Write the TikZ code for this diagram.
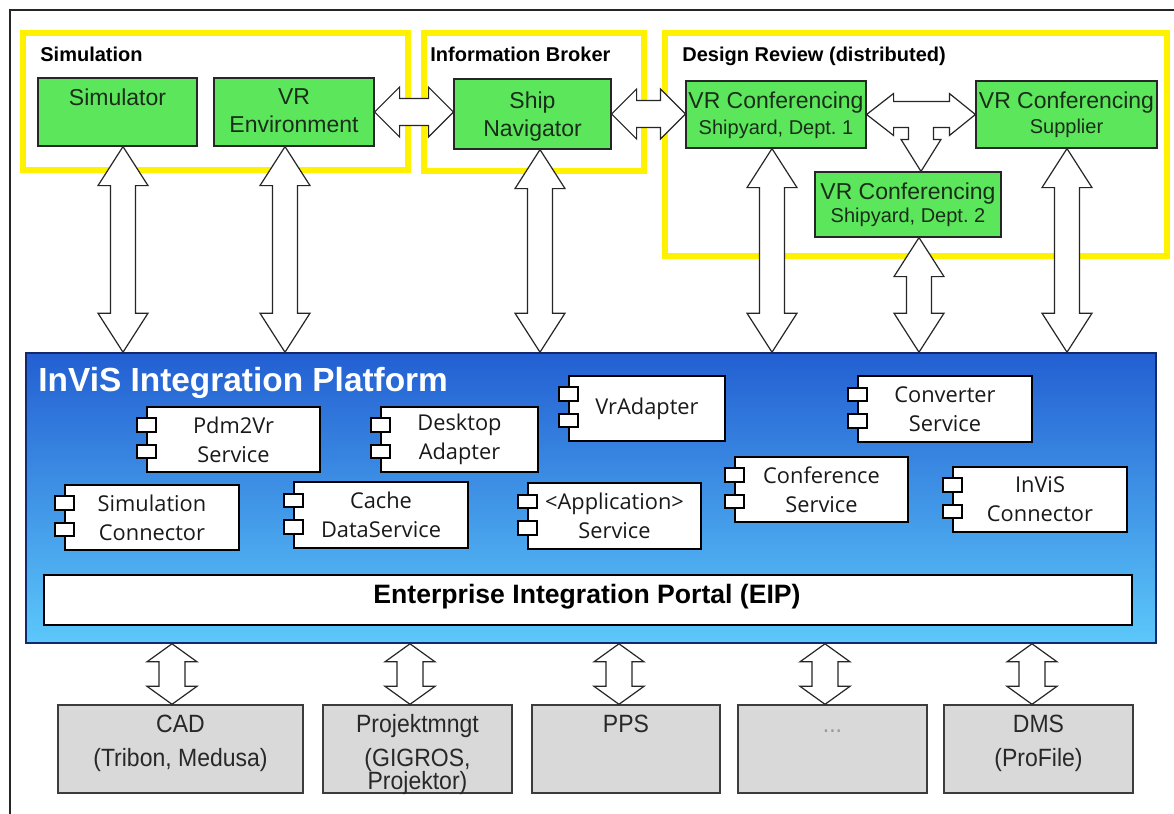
\documentclass[tikz,border=0pt]{standalone}
\usepackage{fontspec}
\setmainfont{Liberation Sans}
\newfontfamily\compfont{Open Sans}
\newfontfamily\sysfont[FakeStretch=0.92]{Liberation Sans}
\usetikzlibrary{calc,fit}

\definecolor{gboxfill}{RGB}{92,230,92}
\definecolor{gboxink}{RGB}{25,45,25}
\definecolor{frameyellow}{RGB}{255,242,0}
\definecolor{platdark}{RGB}{35,95,210}
\definecolor{platlight}{RGB}{92,200,250}
\definecolor{platedge}{RGB}{20,40,110}
\definecolor{sysfill}{RGB}{217,217,217}
\definecolor{sysedge}{RGB}{60,60,60}
\definecolor{sysink}{RGB}{40,40,40}

% vertical double block arrow: #1 upper tip, #2 lower tip,
% #3 head length, #4 head half width, #5 shaft half width
\newcommand\vdbl[5]{%
  \draw[blockarrow] (#1) -- ++(-#4,#3) -- ++(#4-#5,0) -- ($(#2)+(-#5,-#3)$)
    -- ++(#5-#4,0) -- (#2) -- ++(#4,-#3) -- ++(#5-#4,0)
    -- ($(#1)+(#5,#3)$) -- ++(#4-#5,0) -- cycle;}
% horizontal double block arrow: #1 left tip, #2 right tip
\newcommand\hdbl[5]{%
  \draw[blockarrow] (#1) -- ++(#3,-#4) -- ++(0,#4-#5) -- ($(#2)+(-#3,-#5)$)
    -- ++(0,#5-#4) -- (#2) -- ++(-#3,#4) -- ++(0,#5-#4)
    -- ($(#1)+(#3,#5)$) -- ++(0,#4-#5) -- cycle;}
% a component box with its label and the two port rectangles on its left edge
% #1 name, #2 upper left corner, #3 lower right corner, #4 label
\newcommand\component[4]{%
  \node[comp, fit={#2 #3}] (#1) {};
  \node[comptext] (#1-label) at (#1.center) {#4};
  \draw[compicon] ($(#1.west)+(-9,-21.25)$) rectangle ++(19,13.5);
  \draw[compicon] ($(#1.west)+(-9,5.25)$) rectangle ++(19,13.5);}

\tikzset{
  area/.style={draw=frameyellow, line width=3.2pt, inner sep=0},
  areatitle/.style={font=\bfseries\fontsize{10}{12}\selectfont, inner sep=0, anchor=base west},
  appbox/.style={draw=black!85, line width=0.6pt, fill=gboxfill, inner sep=0},
  apptext/.style={anchor=north, inner sep=0, align=center, text=gboxink,
    font=\fontsize{11.5}{14}\selectfont},
  platform/.style={draw=platedge, line width=0.8pt, top color=platdark,
    bottom color=platlight, inner sep=0},
  comp/.style={draw=black, line width=1.25pt, fill=white, inner sep=0},
  comptext/.style={anchor=center, inner sep=0, align=center,
    font=\compfont\fontsize{10.9}{14.5}\selectfont, text=black!90},
  compicon/.style={draw=black, line width=1.1pt, fill=white},
  portal/.style={draw=black, line width=1.1pt, fill=white, inner sep=0},
  sysbox/.style={draw=sysedge, line width=0.7pt, fill=sysfill, inner sep=0},
  syslabel/.style={anchor=north, inner sep=0, align=center, text=sysink,
    font=\sysfont\fontsize{12.5}{11.5}\selectfont},
  blockarrow/.style={draw=black!85, line width=0.6pt, fill=white, line join=miter},
}

\begin{document}
\setlength{\lineskiplimit}{-20pt}
\begin{tikzpicture}[x=0.5pt, y=-0.5pt]
\useasboundingbox (0,0) rectangle (1174,814);
\fill[white] (0,0) rectangle (1174,814);
\draw[line width=0.9pt, black!85] (10,814) -- (10,10) -- (1174,10);

% ---- upper application areas
\node[area, fit={(23,33) (408,170)}] (simarea) {};
\node[area, fit={(424,33) (644,171)}] (brokerarea) {};
\node[area, fit={(665,33) (1167,256)}] (reviewarea) {};
\node[areatitle] (simtitle) at (40,61.5) {Simulation};
\node[areatitle] (brokertitle) at (430,61.5) {Information Broker};
\node[areatitle] (reviewtitle) at (682,61.5) {Design Review (distributed)};

\node[appbox, fit={(38,78) (197,146)}] (simulator) {};
\node[apptext] (simulator-label) at ($(simulator.north)+(0,11)$) {Simulator};
\node[appbox, fit={(214,78) (374,146)}] (vrenv) {};
\node[apptext] (vrenv-label) at ($(vrenv.north)+(0,11)$) {VR\\Environment};
\node[appbox, fit={(454,79) (611,149)}] (shipnav) {};
\node[apptext] (shipnav-label) at ($(shipnav.north)+(0,13)$) {Ship\\Navigator};
\node[appbox, fit={(686,81) (866,148)}] (vrc1) {};
\node[apptext] (vrc1-label) at ($(vrc1.north)+(0,11)$)
  {VR Conferencing\\[-1pt]{\fontsize{10}{12}\selectfont Shipyard, Dept.~1}};
\node[appbox, fit={(976,81) (1157,148)}] (vrcs) {};
\node[apptext] (vrcs-label) at ($(vrcs.north)+(0,11)$)
  {VR Conferencing\\[-1.5pt]{\fontsize{10}{12}\selectfont Supplier}};
\node[appbox, fit={(815,172) (1001,237)}] (vrc2) {};
\node[apptext] (vrc2-label) at ($(vrc2.north)+(0,11)$)
  {VR Conferencing\\[-2.5pt]{\fontsize{10}{12}\selectfont Shipyard, Dept.~2}};

% ---- integration platform
\node[platform, fit={(26,353) (1156,643)}] (platform) {};
\node[anchor=base west, inner sep=0, text=white, font=\bfseries\fontsize{16.7}{20}\selectfont]
  (platformtitle) at (38,391) {InViS Integration Platform};

\component{pdm2vr}{(147,407)}{(320,472)}{Pdm2Vr\\Service}
\component{desktop}{(381,407)}{(538,472)}{Desktop\\Adapter}
\component{vradapter}{(569,376)}{(725,441)}{VrAdapter}
\component{converter}{(858,376)}{(1032,442)}{Converter\\Service}
\component{simconn}{(65,485)}{(239,550)}{Simulation\\Connector}
\component{cache}{(294,482)}{(468,548)}{Cache\\DataService}
\component{appsvc}{(528,483)}{(701,549)}{<Application>\\Service}
\component{confsvc}{(735,457)}{(908,522)}{Conference\\Service}
\component{invisconn}{(953,467)}{(1127,532)}{InViS\\Connector}

\node[portal, fit={(44,575) (1132,625)}] (eip) {};
\node[anchor=base, inner sep=0, font=\bfseries\fontsize{13.3}{16}\selectfont]
  (eiptitle) at ($(eip.center)+(-1,3)$) {Enterprise Integration Portal (EIP)};

% ---- backend systems
\node[sysbox, fit={(58,705) (303,793)}] (cad) {};
\node[syslabel] (cad-label) at ($(cad.north)+(0,10)$) {CAD\\[5.5pt](Tribon, Medusa)};
\node[sysbox, fit={(323,705) (512,793)}] (proj) {};
\node[syslabel] (proj-label) at ($(proj.north)+(0,10)$) {Projektmngt\\[5.5pt](GIGROS,\\Projektor)};
\node[sysbox, fit={(532,705) (720,793)}] (pps) {};
\node[syslabel] (pps-label) at ($(pps.north)+(0,10)$) {PPS};
\node[sysbox, fit={(738,705) (927,793)}] (more) {};
\node[anchor=base, inner sep=0, text=black!40, font=\sysfont\fontsize{12.5}{14}\selectfont]
  (more-label) at ($(more.north)+(0,28)$) {...};
\node[sysbox, fit={(944,705) (1133,793)}] (dms) {};
\node[syslabel] (dms-label) at ($(dms.north)+(0,10)$) {DMS\\[5.5pt](ProFile)};

% ---- connectors between the applications
\coordinate (h1a) at (vrenv.east);
\coordinate (h1b) at (h1a -| shipnav.west);
\hdbl{h1a}{h1b}{25}{25}{13.5}
\coordinate (h2a) at (shipnav.east);
\coordinate (h2b) at (h2a -| vrc1.west);
\hdbl{h2a}{h2b}{25}{25}{13.5}

\coordinate (L) at (vrc1.east);
\coordinate (R) at (L -| vrcs.west);
\coordinate (D) at ($(vrc2.north)+(13,0)$);
\coordinate (Dm) at (D |- L);
\draw[blockarrow] (L) -- ++(27,-21) -- ++(0,8) -- ($(R)+(-26,-13)$) -- ++(0,-8) -- (R)
  -- ++(-26,21) -- ++(0,-8) -- ($(Dm)+(12.5,13)$) -- ($(D)+(12.5,-32)$)
  -- ($(D)+(20,-32)$) -- (D) -- ($(D)+(-20,-32)$) -- ($(D)+(-12.5,-32)$)
  -- ($(Dm)+(-12.5,13)$) -- ($(L)+(27,13)$) -- ++(0,8) -- cycle;

% ---- applications to platform
\coordinate (s1) at ($(simulator.south)+(5.5,0)$);
\coordinate (s2) at ($(vrenv.south)+(-9,0)$);
\coordinate (s3) at ($(shipnav.south)+(7.5,0)$);
\coordinate (s4) at ($(vrc1.south)+(-4,0)$);
\coordinate (s5) at ($(vrc2.south)+(11,0)$);
\coordinate (s6) at ($(vrcs.south)+(0.5,0)$);
\foreach \i in {1,...,6}{
  \coordinate (p\i) at (s\i |- platform.north);
  \vdbl{s\i}{p\i}{39}{25}{12.5}
}

% ---- platform to backend systems
\coordinate (b1) at ($(cad.north)+(-8.5,0)$);
\coordinate (b2) at ($(proj.north)+(-7.5,0)$);
\coordinate (b3) at ($(pps.north)+(-7,0)$);
\coordinate (b4) at ($(more.north)+(-7.5,0)$);
\coordinate (b5) at ($(dms.north)+(-6.5,0)$);
\foreach \i in {1,...,5}{
  \coordinate (q\i) at (b\i |- platform.south);
  \vdbl{q\i}{b\i}{18}{25}{13}
}
\end{tikzpicture}
\end{document}
